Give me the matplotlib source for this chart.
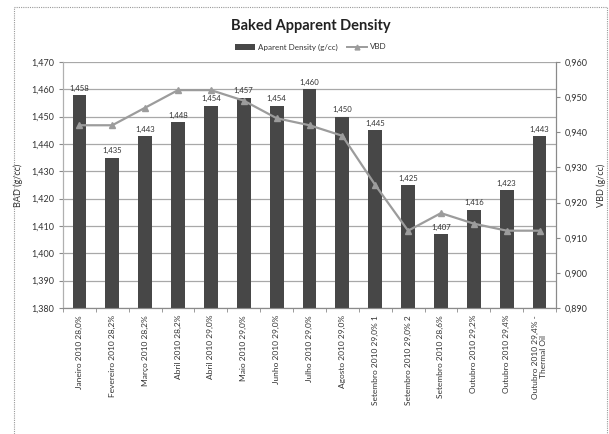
import matplotlib
matplotlib.use("Agg")
import matplotlib.pyplot as plt
from matplotlib.lines import Line2D
from matplotlib.patches import Rectangle, Patch
from matplotlib.ticker import FuncFormatter, FixedLocator
import numpy as np

plt.rcParams['font.family'] = ['Lato', 'DejaVu Sans']

categories = [
    "Janeiro 2010 28,0%", "Fevereiro 2010 28,2%", "Março 2010 28,2%",
    "Abril 2010 28,2%", "Abril 2010 29,0%", "Maio 2010 29,0%",
    "Junho 2010 29,0%", "Julho 2010 29,0%", "Agosto 2010 29,0%",
    "Setembro 2010 29,0% 1", "Setembro 2010 29,0% 2", "Setembro 2010 28,6%",
    "Outubro 2010 29,2%", "Outubro 2010 29,4%", "Outubro 2010 29,4% -\nThermal Oil",
]
bad = [1.458, 1.435, 1.443, 1.448, 1.454, 1.457, 1.454, 1.460, 1.450,
       1.445, 1.425, 1.407, 1.416, 1.423, 1.443]
vbd = [0.942, 0.942, 0.947, 0.952, 0.952, 0.949, 0.944, 0.942, 0.939,
       0.925, 0.912, 0.917, 0.914, 0.912, 0.912]

left_ticks = [1.380, 1.390, 1.400, 1.410, 1.420, 1.430, 1.440, 1.450, 1.460, 1.470]
right_ticks = [0.890, 0.900, 0.910, 0.920, 0.930, 0.940, 0.950, 0.960]


def comma(v, pos=None):
    return f"{v:.3f}".replace(".", ",")


W, H = 609, 434
fig = plt.figure(figsize=(W / 100, H / 100), dpi=100)
fig.patch.set_facecolor("white")

# chart frame
fig.patches.append(Rectangle((14 / W, -0.02), (607 - 14) / W, 1 - 7 / H + 0.02,
                             transform=fig.transFigure, fill=False,
                             edgecolor="#9a9a9a", lw=0.8, linestyle=(0, (1, 1))))

ax = fig.add_axes([63 / W, 1 - 308 / H, (556 - 63) / W, (308 - 62) / H])
ax2 = ax.twinx()

x = np.arange(len(categories))
bar_color = "#474747"
line_color = "#9c9c9c"
text_color = "#333333"

ax.bar(x, bad, width=0.42, color=bar_color, zorder=3)
for xi, v in zip(x, bad):
    ax.text(xi, v + 0.0012, comma(v), ha="center", va="bottom",
            fontsize=5.6, color=text_color, zorder=4)

ax.set_xlim(-0.5, len(categories) - 0.5)
ax.set_ylim(1.380, 1.470)
ax.yaxis.set_major_locator(FixedLocator(left_ticks))
ax.yaxis.set_major_formatter(FuncFormatter(comma))
ax.grid(axis="y", color="#a8a8a8", lw=0.9, zorder=0)
ax.set_axisbelow(True)

ax.set_xticks(x)
ax.set_xticklabels(categories, rotation=90, fontsize=6.0, color=text_color,
                   linespacing=1.25)
ax.tick_params(axis="x", length=0, pad=5)
ax.set_xticks(np.arange(-0.5, len(categories)), minor=True)
ax.tick_params(axis="x", which="minor", length=3, color="#8a8a8a", direction="out")
ax.tick_params(axis="y", labelsize=6.5, colors=text_color, length=3, color="#8a8a8a")
ax.set_ylabel("BAD (g/cc)", fontsize=6.5, color=text_color, labelpad=6)

ax2.plot(x, vbd, color=line_color, lw=1.6, marker="^", markersize=4,
         markerfacecolor=line_color, markeredgecolor=line_color, zorder=5)
ax2.set_ylim(0.890, 0.960)
ax2.yaxis.set_major_locator(FixedLocator(right_ticks))
ax2.yaxis.set_major_formatter(FuncFormatter(comma))
ax2.tick_params(axis="y", labelsize=6.5, colors=text_color, length=3, color="#8a8a8a")
ax2.set_ylabel("VBD (g/cc)", fontsize=6.5, color=text_color, labelpad=6)

for a in (ax, ax2):
    a.spines["top"].set_visible(False)
    a.spines["left"].set_color("#b0b0b0")
    a.spines["right"].set_color("#8a8a8a")
    a.spines["bottom"].set_color("#8a8a8a")
    for s in a.spines.values():
        s.set_linewidth(0.8)
ax.set_zorder(1)
ax2.set_zorder(2)
ax2.patch.set_visible(False)

fig.text(311 / W, 1 - 26 / H, "Baked Apparent Density", ha="center", va="center",
         fontsize=10.5, fontweight="bold", color="#222222")

handles = [Patch(facecolor=bar_color, edgecolor="none"),
           Line2D([0], [0], color=line_color, lw=1.4, marker="^", markersize=3.5)]
fig.legend(handles, ["Aparent Density (g/cc)", "VBD"], loc="center",
           bbox_to_anchor=(311 / W, 1 - 47 / H), ncol=2, frameon=False,
           fontsize=5.8, handlelength=2.4, handleheight=0.8, columnspacing=1.2,
           handletextpad=0.4, labelcolor=text_color)

fig.savefig("out.png", dpi=100, facecolor="white")
